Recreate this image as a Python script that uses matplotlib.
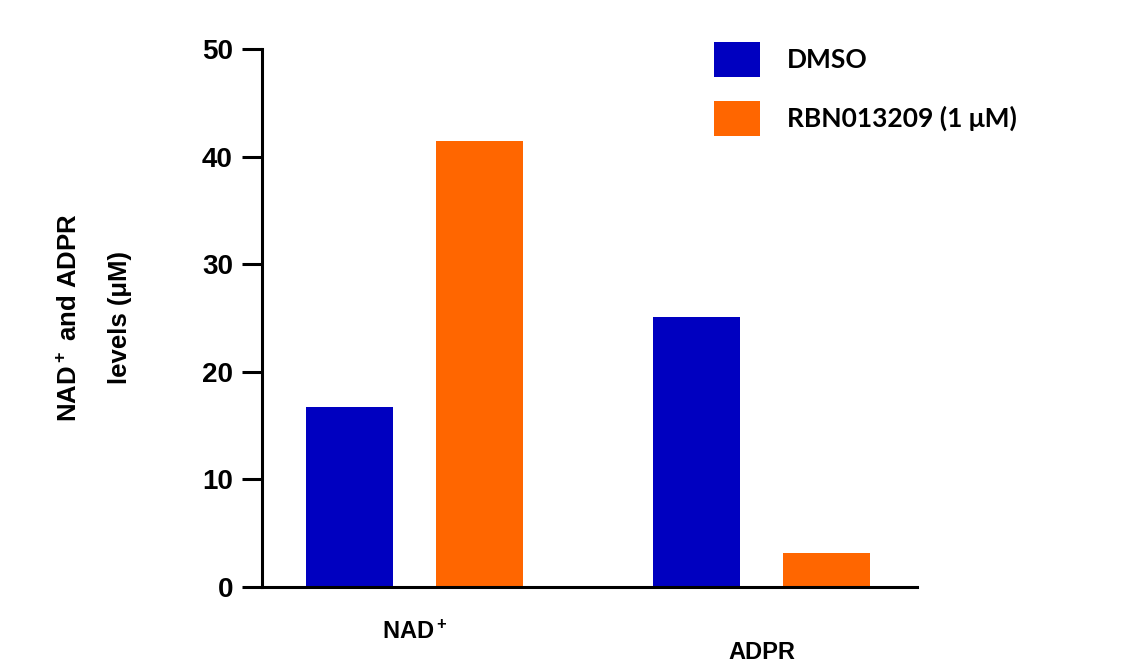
import matplotlib

matplotlib.use("Agg")
import matplotlib.pyplot as plt  # noqa: E402
import numpy as np

plt.rcParams["mathtext.fontset"] = "custom"
plt.rcParams["mathtext.rm"] = "Liberation Sans:bold"
plt.rcParams["mathtext.bf"] = "Liberation Sans:bold"
plt.rcParams["mathtext.default"] = "rm"

groups = ["NAD$^+$", "ADPR"]
series_names = ["DMSO", "RBN013209 (1 μM)"]
dmso = [16.7, 25.1]
rbn = [41.45, 3.15]
y_ticks = [0, 10, 20, 30, 40, 50]

BLUE = "#0000c0"
ORANGE = "#ff6600"

fig = plt.figure(figsize=(11.22, 6.69), dpi=100)
ax = fig.add_axes([0.2335, 0.1226, 0.5838, 0.8042])

x = np.arange(len(groups))
w = 0.25
off = 0.187
ax.bar(x - off, dmso, width=w, color=BLUE, label=series_names[0])
ax.bar(x + off, rbn, width=w, color=ORANGE, label=series_names[1])

ax.set_xlim(-0.44, 1.448)
ax.set_ylim(0, 50)
ax.set_yticks(y_ticks)
ax.set_yticklabels([str(t) for t in y_ticks], fontsize=20, fontweight="bold",
                   family="Liberation Sans")
ax.tick_params(axis="y", direction="out", length=14.4, width=2.2, pad=6.5)

ax.set_xticks(x)
ax.set_xticklabels(groups, fontsize=17, fontweight="bold", family="Liberation Sans")
ax.tick_params(axis="x", length=0, pad=24)
ax.xaxis.get_major_ticks()[1].set_pad(39)

for side in ("top", "right"):
    ax.spines[side].set_visible(False)
for side in ("left", "bottom"):
    ax.spines[side].set_linewidth(2.2)

fig.text(95 / 1122, 1 - 318 / 669, "NAD$^+$ and ADPR\nlevels (μM)",
         rotation=90, ha="center", va="center", multialignment="center",
         fontsize=18.5, fontweight="bold", family=["Liberation Sans", "DejaVu Sans"],
         linespacing=2.4)

# handle box: patch is ~46x35 px, rows ~59 px apart
leg = ax.legend(loc="upper left", bbox_to_anchor=(714 / 1122, 1 - 42 / 669),
                bbox_transform=fig.transFigure, frameon=False, borderpad=0,
                borderaxespad=0, handlelength=1.74, handleheight=1.66,
                handletextpad=1.02, labelspacing=0.91,
                prop={"family": ["Lato", "DejaVu Sans"], "weight": "bold", "size": 19})

fig.savefig("out.png", dpi=100)
